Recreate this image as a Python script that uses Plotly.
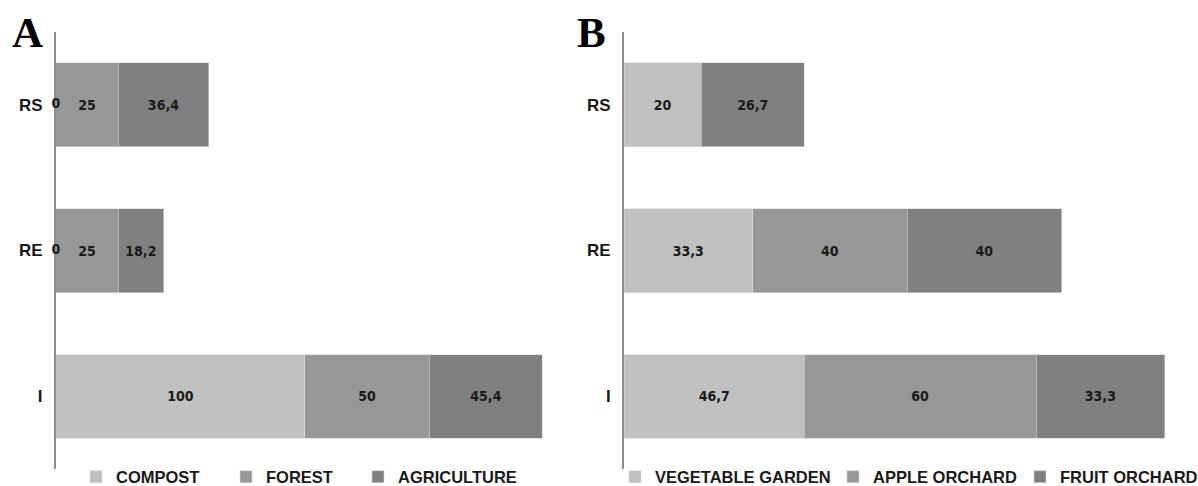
import plotly.graph_objects as go

# ---- data ----
categories = ["I", "RE", "RS"]

a_names = ["COMPOST", "FOREST", "AGRICULTURE"]
a_compost = [100, 0, 0]
a_forest = [50, 25, 25]
a_agriculture = [45.4, 18.2, 36.4]

b_names = ["VEGETABLE GARDEN", "APPLE ORCHARD", "FRUIT ORCHARD"]
b_vegetable = [46.7, 33.3, 20]
b_apple = [60, 40, None]
b_fruit = [33.3, 40, 26.7]

colors = ["#c0c0c0", "#979797", "#808080"]

# legend text start positions (px) for each entry
a_legend_px = [114, 264, 396]
b_legend_px = [653, 871, 1058]

LABEL_FONT = dict(family="Liberation Sans Narrow, Arial Narrow, DejaVu Sans Condensed, Liberation Sans",
                  size=14, color="#1a1a1a", weight="bold")
BOLD = "Liberation Sans, Arial"
W, H = 1198, 486


def fmt(v):
    if v is None:
        return ""
    s = ("%g" % v)
    return s.replace(".", ",")


fig = go.Figure()
legend_ids = []


def add_panel(names, series, xa, ya, legend_px):
    bases = [0.0] * len(categories)
    for name, vals, col, lpx in zip(names, series, colors, legend_px):
        lid = "legend" if not legend_ids else "legend%d" % (len(legend_ids) + 1)
        legend_ids.append((lid, lpx))
        fig.add_trace(go.Bar(
            y=categories, x=vals, name=name, orientation="h",
            marker=dict(color=col, line=dict(width=0.6, color="#d8d8d8")),
            text=[fmt(v) if (v is not None and v != 0) else "" for v in vals],
            textposition="inside", insidetextanchor="middle", textangle=0,
            insidetextfont=LABEL_FONT, constraintext="none",
            xaxis=xa, yaxis=ya, legend=lid, hoverinfo="skip",
        ))
        # labels for zero-valued segments, placed at the segment's position
        zx, zy, zt = [], [], []
        for i, v in enumerate(vals):
            if v == 0:
                zx.append(bases[i]); zy.append(categories[i]); zt.append(fmt(v))
            if v is not None:
                bases[i] += v
        if zx:
            fig.add_trace(go.Scatter(
                x=zx, y=zy, text=zt, mode="text", textposition="middle center",
                textfont=LABEL_FONT, showlegend=False, xaxis=xa, yaxis=ya,
                hoverinfo="skip", cliponaxis=False,
            ))


add_panel(a_names, [a_compost, a_forest, a_agriculture], "x", "y", a_legend_px)
add_panel(b_names, [b_vegetable, b_apple, b_fruit], "x2", "y2", b_legend_px)

yaxis_common = dict(
    domain=[0.034, 0.935], type="category",
    categoryorder="array", categoryarray=categories,
    showline=True, linecolor="#8c8c8c", linewidth=2,
    showgrid=False, zeroline=False, ticks="", ticklabelstandoff=8,
    automargin=False, layer="below traces",
    tickfont=dict(family=BOLD, size=17, color="#1a1a1a", weight="bold"),
)

legend_common = dict(
    orientation="h", yanchor="middle", y=(H - 477) / H, xanchor="left",
    font=dict(family=BOLD, size=16.5, color="#1a1a1a", weight="bold"),
    bgcolor="rgba(0,0,0,0)", itemwidth=30, borderwidth=0,
)

legends = {}
for lid, lpx in legend_ids:
    legends[lid] = dict(x=(lpx - 38) / W, **legend_common)

fig.update_layout(
    width=W, height=H,
    margin=dict(l=0, r=0, t=0, b=0, autoexpand=False),
    paper_bgcolor="white", plot_bgcolor="white",
    barmode="stack", bargap=0.425,
    xaxis=dict(domain=[0.0467, 0.4624], range=[0, 200], visible=False, automargin=False),
    yaxis=dict(anchor="x", **yaxis_common),
    xaxis2=dict(domain=[0.5209, 0.9883], range=[0, 145], visible=False, automargin=False),
    yaxis2=dict(anchor="x2", **yaxis_common),
    showlegend=True,
    annotations=[
        dict(text="A", x=10 / W, y=1 - 58 / H, xref="paper", yref="paper",
             xanchor="left", yanchor="bottom", showarrow=False,
             font=dict(family="Liberation Serif, Times New Roman", size=43,
                       color="black", weight="bold")),
        dict(text="B", x=575 / W, y=1 - 58 / H, xref="paper", yref="paper",
             xanchor="left", yanchor="bottom", showarrow=False,
             font=dict(family="Liberation Serif, Times New Roman", size=43,
                       color="black", weight="bold")),
    ],
    **legends,
)

fig.write_html("out.html", config={"displayModeBar": False},
               post_script="document.body.style.margin='0';document.body.style.overflow='hidden';")
